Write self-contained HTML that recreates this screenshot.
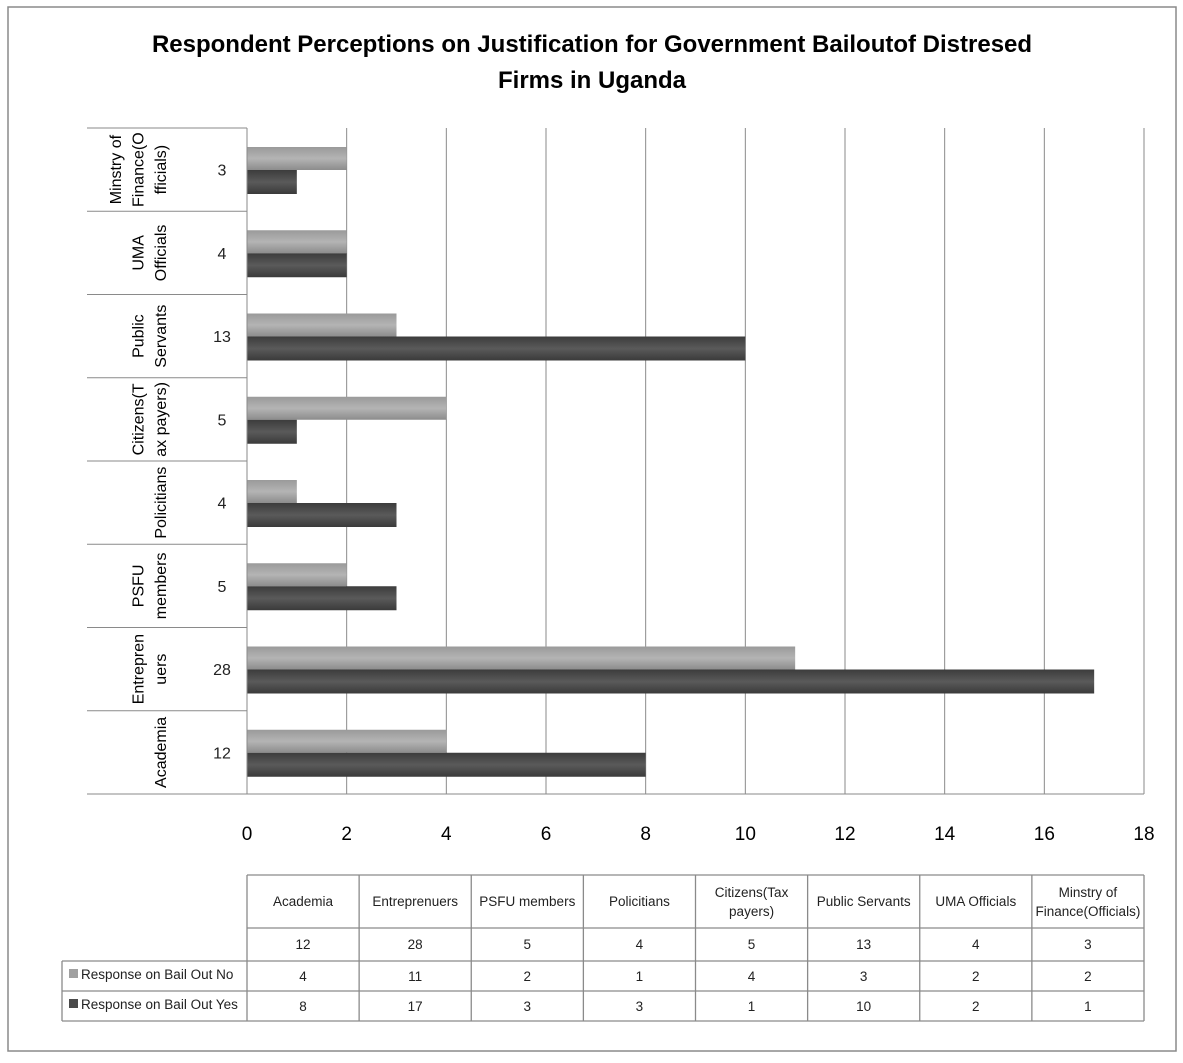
<!DOCTYPE html>
<html><head><meta charset="utf-8"><style>
body{margin:0;background:#fff}
svg text{font-family:"Liberation Sans",sans-serif}
</style></head><body>
<svg id="c" width="1183" height="1058" xmlns="http://www.w3.org/2000/svg">
<defs>
<linearGradient id="gNo" x1="0" y1="0" x2="0" y2="1"><stop offset="0" stop-color="#9a9a9a"/><stop offset="0.5" stop-color="#b4b4b4"/><stop offset="1" stop-color="#8c8c8c"/></linearGradient>
<linearGradient id="gYes" x1="0" y1="0" x2="0" y2="1"><stop offset="0" stop-color="#3c3c3c"/><stop offset="0.5" stop-color="#5a5a5a"/><stop offset="1" stop-color="#3a3a3a"/></linearGradient>
</defs>
<rect x="8" y="7" width="1168" height="1044" fill="#fff" stroke="#8a8a8a" stroke-width="1.5"/>
<text x="592" y="52" text-anchor="middle" font-size="24" font-weight="bold">Respondent Perceptions on Justification for Government Bailoutof Distresed</text>
<text x="592" y="88" text-anchor="middle" font-size="24" font-weight="bold">Firms  in Uganda</text>
<g id="plot"></g>
</svg>
<script>
const categories=["Academia","Entreprenuers","PSFU members","Policitians","Citizens(Tax payers)","Public Servants","UMA Officials","Minstry of Finance(Officials)"];
const totals=[12,28,5,4,5,13,4,3];
const noVals=[4,11,2,1,4,3,2,2];
const yesVals=[8,17,3,3,1,10,2,1];
const xTicks=[0,2,4,6,8,10,12,14,16,18];
const axisLabels=[["Academia"],["Entrepren","uers"],["PSFU","members"],["Policitians"],["Citizens(T","ax payers)"],["Public","Servants"],["UMA","Officials"],["Minstry of","Finance(O","fficials)"]];
const NS="http://www.w3.org/2000/svg";
const g=document.getElementById('plot');
function mk(t,a,p){const e=document.createElementNS(NS,t);for(const k in a)e.setAttribute(k,a[k]);(p||g).appendChild(e);return e;}
const X0=247,X1=1144,Y0=128,Y1=794;
const xs=v=>X0+(v-0)/(18-0)*(X1-X0);
const n=categories.length,bh=(Y1-Y0)/n;
const bandTop=i=>Y1-(i+1)*bh;
// gridlines
xTicks.forEach(t=>{
 const l=mk('line',{x1:xs(t),x2:xs(t),y1:Y0,y2:Y1,stroke:'#8a8a8a','stroke-width':1});
 
 
 const tx=mk('text',{x:xs(t),y:840,'text-anchor':'middle','font-size':19});
 tx.textContent=t;
 
 
});
mk('line',{x1:87,x2:X1,y1:Y1,y2:Y1,stroke:'#8a8a8a'});
for(let i=0;i<=n;i++){const y=Y1-i*bh;mk('line',{x1:87,x2:X0,y1:y,y2:y,stroke:'#8a8a8a'});}
categories.forEach((c,i)=>{
 const top=bandTop(i),mid=top+bh/2;
 const rn=mk('rect',{x:X0,y:top+19,width:xs(noVals[i])-X0,height:23,fill:'url(#gNo)'});
 
 
 const ry=mk('rect',{x:X0,y:top+42,width:xs(yesVals[i])-X0,height:24,fill:'url(#gYes)'});
 
 
 const t=mk('text',{x:222,y:mid+6,'text-anchor':'middle','font-size':16,fill:'#222'});
 t.textContent=totals[i];
 
 
 const lines=axisLabels[i];
 lines.forEach((s,j)=>{
  const lx=160-(lines.length-1-j)*22.5;
  const tt=mk('text',{x:lx+6,y:mid,'text-anchor':'middle','font-size':16,transform:`rotate(-90 ${lx+6} ${mid})`});
  tt.textContent=s;
  
  
 });
});
mk('line',{x1:X0,x2:X0,y1:Y0,y2:Y1,stroke:'#8a8a8a'});
// table
const cw=(X1-X0)/n,rows=[875,928,961,991,1021];
const st={stroke:'#8a8a8a','stroke-width':1.3};
mk('line',Object.assign({x1:X0,x2:X1,y1:875,y2:875},st));
mk('line',Object.assign({x1:X0,x2:X1,y1:928,y2:928},st));
[961,991,1021].forEach(y=>mk('line',Object.assign({x1:62,x2:X1,y1:y,y2:y},st)));
mk('line',Object.assign({x1:62,x2:62,y1:961,y2:1021},st));
for(let i=0;i<=n;i++)mk('line',Object.assign({x1:X0+i*cw,x2:X0+i*cw,y1:875,y2:1021},st));
const hdr=[["Academia"],["Entreprenuers"],["PSFU members"],["Policitians"],["Citizens(Tax","payers)"],["Public Servants"],["UMA Officials"],["Minstry of","Finance(Officials)"]];
categories.forEach((c,i)=>{
 const cx=X0+(i+0.5)*cw;
 hdr[i].forEach((s,j)=>{
  const y=hdr[i].length==1?906:897+j*19;
  const t=mk('text',{x:cx,y:y,'text-anchor':'middle','font-size':13.5,fill:'#222'});t.textContent=s;
  
  
 });
 [[totals,949],[noVals,981],[yesVals,1011]].forEach(([arr,y])=>{
  const t=mk('text',{x:cx,y:y,'text-anchor':'middle','font-size':13.5,fill:'#222'});t.textContent=arr[i];
  
  
 });
});
mk('rect',{x:69,y:969,width:9,height:9,fill:'#a0a0a0'});
mk('rect',{x:69,y:999,width:9,height:9,fill:'#4a4a4a'});
const l1=mk('text',{x:81,y:979,'font-size':13.5,fill:'#222'});l1.textContent="Response on Bail Out No";


const l2=mk('text',{x:81,y:1009,'font-size':13.5,fill:'#222'});l2.textContent="Response on Bail Out Yes";


</script>
</body></html>
